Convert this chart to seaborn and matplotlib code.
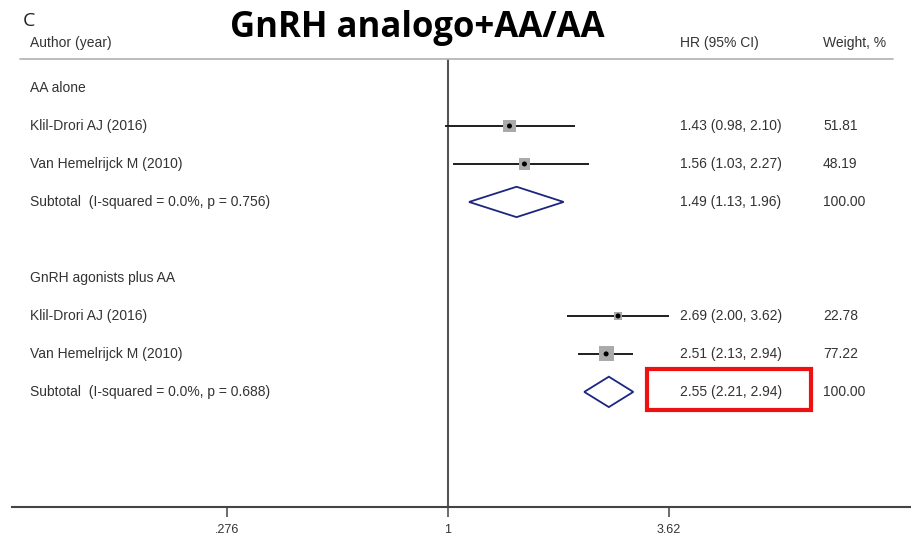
import numpy as np
import matplotlib
matplotlib.use("Agg")
import matplotlib.pyplot as plt
import seaborn as sns
import pandas as pd
from matplotlib.patches import Polygon, Rectangle
from matplotlib.transforms import blended_transform_factory

sns.set_style("white")
plt.rcParams['font.family'] = ['Liberation Sans', 'DejaVu Sans']

# ---- data ----
row_labels = ["AA alone",
              "Klil-Drori AJ (2016)",
              "Van Hemelrijck M (2010)",
              "Subtotal  (I-squared = 0.0%, p = 0.756)",
              "",
              "GnRH agonists plus AA",
              "Klil-Drori AJ (2016)",
              "Van Hemelrijck M (2010)",
              "Subtotal  (I-squared = 0.0%, p = 0.688)"]
study_rows = [1, 2, 6, 7]
study_hr = [1.43, 1.56, 2.69, 2.51]
study_lo = [0.98, 1.03, 2.00, 2.13]
study_hi = [2.10, 2.27, 3.62, 2.94]
study_w = [51.81, 48.19, 22.78, 77.22]
sub_rows = [3, 8]
sub_hr = [1.49, 2.55]
sub_lo = [1.13, 2.21]
sub_hi = [1.96, 2.94]
sub_w = [100.00, 100.00]
xticks = [0.276, 1, 3.62]
xtick_labels = [".276", "1", "3.62"]

df = pd.DataFrame({"row": study_rows, "hr": study_hr, "lo": study_lo,
                   "hi": study_hi, "w": study_w})

W, H = 912, 542
fig = plt.figure(figsize=(W / 100, H / 100), dpi=100)
ax = fig.add_axes([12 / W, 1 - 507 / H, 898 / W, (507 - 59) / H])
ax.set_xscale("log")
ax.set_xlim(0.0790, 14.72)
ax.set_ylim(11.03, -0.763)

text_col = "#333333"
# reference line
ax.axvline(1, color="#555555", lw=1.5, zorder=1)

# CI lines
ax.hlines(df["row"], df["lo"], df["hi"], color="#1e1e1e", lw=1.4, zorder=2)
# weight squares
sns.scatterplot(data=df, x="hr", y="row", marker="s", s=df["w"] * 1.5,
                color="#aaaaaa", edgecolor="none", ax=ax, zorder=3, legend=False)
# centre dots
ax.scatter(df["hr"], df["row"], s=13, color="black", zorder=4, edgecolor="none")

# diamonds
for r, h, l, u in zip(sub_rows, sub_hr, sub_lo, sub_hi):
    d = Polygon([(l, r), (h, r - 0.4), (u, r), (h, r + 0.4)], closed=True,
                facecolor="none", edgecolor="#1c2580", lw=1.3, zorder=3)
    ax.add_patch(d)

bt = blended_transform_factory(ax.transAxes, ax.transData)
def fx(px):
    return (px - 12) / 898

fs = 10
for i, lab in enumerate(row_labels):
    if lab:
        ax.text(fx(30), i, lab, transform=bt, va="center", ha="left",
                fontsize=fs, color=text_col)
for r, h, l, u, w in zip(study_rows + sub_rows, study_hr + sub_hr,
                         study_lo + sub_lo, study_hi + sub_hi, study_w + sub_w):
    ax.text(fx(680), r, f"{h:.2f} ({l:.2f}, {u:.2f})", transform=bt,
            va="center", ha="left", fontsize=fs, color=text_col)
    ax.text(fx(823), r, f"{w:.2f}", transform=bt, va="center", ha="left",
            fontsize=fs, color=text_col)

# headers
hy = (43 - 88) / 38
ax.text(fx(30), hy, "Author (year)", transform=bt, va="center", ha="left",
        fontsize=fs, color=text_col, clip_on=False)
ax.text(fx(680), hy, "HR (95% CI)", transform=bt, va="center", ha="left",
        fontsize=fs, color=text_col, clip_on=False)
ax.text(fx(823), hy, "Weight, %", transform=bt, va="center", ha="left",
        fontsize=fs, color=text_col, clip_on=False)
ax.plot([fx(20), fx(893)], [1, 1], transform=ax.transAxes, color="#b0b0b0",
        lw=1.2, clip_on=False)

# red highlight box
y0 = (369 - 88) / 38
y1 = (410 - 88) / 38
ax.add_patch(Rectangle((fx(647), y0), fx(811) - fx(647), y1 - y0,
                       transform=bt, facecolor="none", edgecolor="#ee1111",
                       lw=3, zorder=5, clip_on=False))

# axes styling
for s in ["top", "left", "right"]:
    ax.spines[s].set_visible(False)
ax.spines["bottom"].set_color("#444444")
ax.spines["bottom"].set_linewidth(1.5)
ax.set_yticks([])
ax.set_xticks(xticks)
ax.set_xticklabels(xtick_labels)
ax.xaxis.set_minor_locator(matplotlib.ticker.NullLocator())
ax.tick_params(axis="x", which="major", direction="out", length=7, width=1.1,
               color="#444444", labelsize=9, labelcolor="#333333", pad=5,
               bottom=True)
ax.set_xlabel("")
ax.set_ylabel("")

# panel letter and title
fig.text(23 / W, 1 - 21 / H, "C", fontsize=14, va="center", ha="left",
         family=["Open Sans", "DejaVu Sans"], color="#222222")
fig.text(417 / W, 1 - 37 / H, "GnRH analogo+AA/AA", fontsize=25,
         fontweight="bold", va="baseline", ha="center",
         family=["Open Sans", "DejaVu Sans"], color="black")

fig.savefig("out.png", dpi=100)
